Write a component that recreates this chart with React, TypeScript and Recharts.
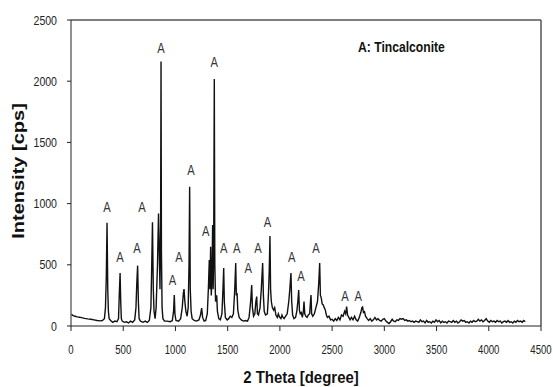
import React from 'react';
import { LineChart, Line, XAxis, YAxis, ReferenceDot, ReferenceLine } from 'recharts';

const twoTheta = [
  5, 20, 40, 60, 80, 100, 130, 160, 190, 220, 250, 280, 300, 320, 330, 338, 345, 352, 358, 365, 380,
  400, 420, 440, 455, 462, 470, 476, 482, 490, 510, 530, 550, 570, 590, 610, 622, 630, 638, 645, 652, 665,
  690, 710, 730, 750, 765, 772, 780, 788, 795, 805, 815, 828, 838, 845, 852, 858, 862, 866, 872, 880, 895,
  920, 950, 970, 982, 989, 995, 1005, 1030, 1050, 1065, 1075, 1082, 1090, 1100, 1112, 1122, 1130, 1136,
  1142, 1150, 1160, 1180, 1200, 1225, 1240, 1251, 1260, 1275, 1290, 1305, 1315, 1324, 1330, 1337, 1343,
  1350, 1356, 1361, 1366, 1372, 1377, 1384, 1395, 1402, 1415, 1430, 1445, 1455, 1462, 1468, 1478, 1495,
  1510, 1525, 1540, 1555, 1568, 1577, 1583, 1590, 1597, 1610, 1630, 1650, 1670, 1690, 1705, 1720, 1730,
  1737, 1748, 1760, 1770, 1778, 1785, 1795, 1810, 1822, 1835, 1842, 1850, 1862, 1880, 1890, 1898, 1905,
  1911, 1918, 1928, 1940, 1950, 1962, 1975, 1985, 1995, 2010, 2020, 2030, 2040, 2055, 2070, 2085, 2095,
  2106, 2113, 2122, 2135, 2150, 2162, 2172, 2180, 2187, 2195, 2205, 2215, 2225, 2231, 2238, 2248, 2260,
  2272, 2285, 2293, 2298, 2304, 2315, 2330, 2345, 2360, 2372, 2381, 2388, 2396, 2405, 2415, 2425, 2435,
  2445, 2455, 2470, 2485, 2500, 2515, 2530, 2545, 2560, 2575, 2590, 2605, 2620, 2630, 2639, 2648, 2660,
  2672, 2685, 2700, 2715, 2730, 2745, 2760, 2775, 2785, 2792, 2800, 2810, 2820, 2835, 2850, 2865, 2880,
  2895, 2910, 2925, 2940, 2955, 2970, 2985, 3000, 3015, 3030, 3045, 3060, 3075, 3090, 3105, 3120, 3135,
  3150, 3165, 3180, 3195, 3210, 3225, 3240, 3255, 3270, 3285, 3300, 3315, 3330, 3345, 3360, 3375, 3390,
  3405, 3420, 3435, 3450, 3465, 3480, 3495, 3510, 3525, 3540, 3555, 3570, 3585, 3600, 3615, 3630, 3645,
  3660, 3675, 3690, 3705, 3720, 3735, 3750, 3765, 3780, 3795, 3810, 3825, 3840, 3855, 3870, 3885, 3900,
  3915, 3930, 3945, 3960, 3975, 3990, 4005, 4020, 4035, 4050, 4065, 4080, 4095, 4110, 4125, 4140, 4155,
  4170, 4185, 4200, 4215, 4230, 4245, 4260, 4275, 4290, 4305, 4320, 4335, 4350,
];

const intensity = [
  95, 85, 80, 75, 72, 68, 62, 58, 55, 50, 45, 42, 45, 60, 150, 400, 844, 300, 120, 60, 45,
  30, 40, 35, 60, 250, 433, 200, 60, 40, 30, 35, 25, 40, 30, 50, 150, 350, 493, 200, 60, 40,
  30, 40, 30, 45, 150, 450, 847, 300, 120, 60, 150, 500, 920, 600, 300, 800, 2160, 600, 150, 60, 40,
  40, 35, 45, 120, 253, 100, 45, 40, 60, 150, 260, 302, 200, 120, 80, 150, 500, 1138,
  300, 120, 60, 45, 40, 50, 90, 147, 70, 40, 45, 100, 300, 539, 300, 648, 250,
  400, 825, 300, 600, 2018, 500, 200, 250, 120, 60, 50, 100, 300, 474, 200, 70, 50,
  60, 80, 70, 100, 300, 515, 250, 270, 130, 70, 50, 40, 45, 40, 70, 200, 335,
  150, 80, 100, 200, 240, 100, 90, 150, 300, 515, 250, 120, 90, 100, 250, 450, 735,
  300, 200, 150, 130, 150, 90, 70, 100, 75, 60, 90, 70, 60, 80, 100, 200, 300,
  433, 200, 90, 60, 70, 120, 200, 294, 130, 100, 110, 70, 120, 199, 100, 80, 70,
  90, 100, 200, 253, 100, 80, 100, 150, 200, 350, 515, 250, 230, 180, 172, 150, 130,
  90, 70, 80, 50, 55, 40, 60, 45, 70, 50, 90, 80, 120, 100, 158, 90, 70,
  50, 70, 50, 80, 50, 40, 70, 110, 150, 155, 110, 117, 80, 60, 45, 60, 40,
  50, 70, 50, 60, 45, 40, 55, 60, 40, 30, 20, 35, 55, 40, 35, 50, 45,
  60, 55, 60, 45, 50, 40, 45, 35, 40, 30, 40, 35, 30, 50, 35, 40, 25,
  45, 30, 35, 25, 40, 30, 50, 35, 45, 25, 40, 30, 35, 25, 40, 35, 30,
  45, 30, 40, 25, 35, 50, 40, 45, 30, 35, 25, 40, 30, 45, 35, 40, 55,
  40, 50, 35, 45, 60, 40, 30, 45, 35, 40, 30, 45, 35, 40, 25, 35, 40,
  30, 45, 30, 35, 25, 40, 30, 45, 35, 40, 30, 45, 35,
];

const xTicks = [0, 500, 1000, 1500, 2000, 2500, 3000, 3500, 4000, 4500];
const yTicks = [0, 500, 1000, 1500, 2000, 2500];

// positions of the "A" (Tincalconite) peak markers, in data units
const markX = [345, 469, 632, 680, 862, 972, 1034, 1149, 1290, 1372, 1462, 1586, 1698, 1790, 1880, 2113, 2202, 2346, 2623, 2751];
const markY = [972, 564, 637, 972, 2271, 376, 564, 1275, 776, 2154, 637, 637, 474, 637, 850, 564, 409, 637, 245, 245];

const xTitle = '2 Theta [degree]';
const yTitle = 'Intensity [cps]';
const legendText = 'A: Tincalconite';
const markText = 'A';

const data = twoTheta.map((x, i) => ({ x, y: intensity[i] }));
const SANS = "'Liberation Sans', Arial, sans-serif";

const XTick = (props: any) => {
  const { x, y, payload } = props;
  return (
    <text transform={`translate(${x},${y + 21}) scale(0.74,1)`} textAnchor="middle" fill="#222" fontSize={13} fontFamily={SANS}>
      {payload.value}
    </text>
  );
};

const YTick = (props: any) => {
  const { x, y, payload } = props;
  return (
    <text transform={`translate(${x - 8},${y + 4.5}) scale(0.88,1)`} textAnchor="end" fill="#222" fontSize={12} fontFamily={SANS}>
      {payload.value}
    </text>
  );
};

const MarkShape = (props: any) => {
  const { cx, cy } = props;
  return (
    <text transform={`translate(${cx},${cy + 5}) scale(0.8,1)`} textAnchor="middle" fill="#333" fontSize={14} fontFamily={SANS}>
      {markText}
    </text>
  );
};

export default function App() {
  return (
    <div style={{ position: 'absolute', left: 0, top: 0, width: 553, height: 387, background: '#fff' }}>
      <LineChart width={553} height={387} data={data} margin={{ top: 20, right: 12, bottom: 31, left: 0 }}>
        <XAxis
          type="number"
          dataKey="x"
          domain={[0, 4500]}
          ticks={xTicks}
          interval={0}
          height={30}
          tickSize={5}
          stroke="#222"
          tick={<XTick />}
        />
        <YAxis
          type="number"
          domain={[0, 2500]}
          ticks={yTicks}
          interval={0}
          width={71}
          tickSize={4}
          stroke="#222"
          tick={<YTick />}
        />
        <ReferenceLine y={2500} stroke="#555" strokeWidth={1.5} />
        <ReferenceLine x={4500} stroke="#555" strokeWidth={1.5} />
        <Line
          type="linear"
          dataKey="y"
          stroke="#111"
          strokeWidth={1.4}
          dot={false}
          isAnimationActive={false}
        />
        {markX.map((mx, i) => (
          <ReferenceDot key={i} x={mx} y={markY[i]} r={0} shape={<MarkShape />} />
        ))}
      </LineChart>
      <div style={{ position: 'absolute', left: 301, top: 378, transform: 'translate(-50%, -50%) scaleX(0.88)', whiteSpace: 'nowrap', fontFamily: SANS, fontWeight: 'bold', fontSize: 17, color: '#111' }}>
        {xTitle}
      </div>
      <div style={{ position: 'absolute', left: 19, top: 171, transform: 'translate(-50%, -50%) scaleX(0.8) rotate(-90deg)', whiteSpace: 'nowrap', fontFamily: SANS, fontWeight: 'bold', fontSize: 20, color: '#111' }}>
        {yTitle}
      </div>
      <div style={{ position: 'absolute', left: 358, top: 46, transform: 'translateY(-50%) scaleX(0.81)', transformOrigin: 'left center', whiteSpace: 'nowrap', fontFamily: SANS, fontWeight: 'bold', fontSize: 15, color: '#111' }}>
        {legendText}
      </div>
    </div>
  );
}
